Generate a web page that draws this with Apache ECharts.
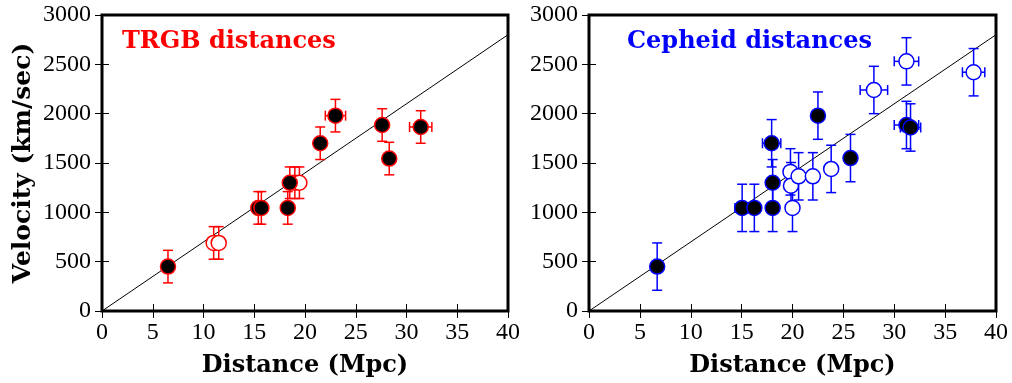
<!DOCTYPE html>
<html>
<head>
<meta charset="utf-8">
<script src="https://cdn.jsdelivr.net/npm/echarts@6/dist/echarts.min.js"></script>
<style>
  html, body { margin: 0; padding: 0; background: #fff; }
  #chart { width: 1012px; height: 383px; }
</style>
</head>
<body>
<div id="chart"></div>
<script>
// Hubble diagram: velocity vs distance for two distance indicators.
// Each row: [distance (Mpc), velocity (km/s), distance error, velocity error]
const trgbFilled = [
  [6.5, 450, 0, 165],
  [15.4, 1045, 0, 165],
  [15.7, 1045, 0, 165],
  [18.3, 1045, 0, 165],
  [18.5, 1300, 0, 160],
  [21.5, 1700, 0, 165],
  [23.0, 1980, 1.0, 165],
  [27.6, 1885, 0, 165],
  [28.3, 1545, 0, 165],
  [31.4, 1865, 1.1, 165]
];
const trgbOpen = [
  [11.0, 690, 0, 165],
  [11.5, 690, 0, 165],
  [19.0, 1300, 0, 160],
  [19.45, 1300, 0, 160]
];
const cepheidFilled = [
  [6.7, 450, 0, 240],
  [15.05, 1045, 0.7, 240],
  [16.25, 1045, 0, 240],
  [18.05, 1045, 0.5, 240],
  [18.05, 1300, 0, 235],
  [17.95, 1700, 0.9, 240],
  [22.5, 1980, 0, 240],
  [25.7, 1550, 0, 240],
  [31.2, 1885, 1.2, 240],
  [31.6, 1860, 1.0, 240]
];
const cepheidOpen = [
  [19.8, 1410, 0, 235],
  [19.85, 1270, 0, 235],
  [20.6, 1365, 0, 240],
  [22.0, 1365, 0, 240],
  [20.0, 1045, 0, 240],
  [23.8, 1440, 0, 240],
  [28.0, 2240, 1.35, 240],
  [31.2, 2530, 1.2, 240],
  [37.8, 2420, 1.1, 240]
];
// Reference Hubble law, H0 = 70 km/s/Mpc, between its end points.
const hubbleLine = [[0, 0], [40, 2800]];

const xTicks = [0, 5, 10, 15, 20, 25, 30, 35, 40];
const yTicks = [0, 500, 1000, 1500, 2000, 2500, 3000];
const panelTitles = ['TRGB distances', 'Cepheid distances'];
const panelColors = ['#ff0000', '#0000ff'];
const xName = 'Distance (Mpc)';
const yName = 'Velocity (km/sec)';

const RED = panelColors[0], BLUE = panelColors[1];
const tickFont = { fontFamily: 'Liberation Serif', fontSize: 24, color: '#000' };
const boldFont = { fontFamily: 'DejaVu Serif', fontWeight: 'bold', fontSize: 24, color: '#000' };
const plain = v => String(v);

const grids = [
  { left: 102, top: 15, width: 406, height: 298 },
  { left: 589, top: 15, width: 407, height: 298 }
];

function xAxisFor(gi, pos) {
  const main = pos === 'bottom';
  return {
    gridIndex: gi, type: 'value', position: pos,
    min: xTicks[0], max: xTicks[xTicks.length - 1], interval: xTicks[1] - xTicks[0],
    axisLine: { show: false },
    axisTick: { show: true, inside: true, length: 7, lineStyle: { color: '#000', width: 1 } },
    axisLabel: main ? Object.assign({ show: true, margin: 10, formatter: plain }, tickFont) : { show: false },
    splitLine: { show: false },
    name: main ? xName : '',
    nameLocation: 'middle', nameGap: 43,
    nameTextStyle: boldFont
  };
}
function yAxisFor(gi, pos) {
  const main = pos === 'left';
  return {
    gridIndex: gi, type: 'value', position: pos,
    min: yTicks[0], max: yTicks[yTicks.length - 1], interval: yTicks[1] - yTicks[0],
    axisLine: { show: false },
    axisTick: { show: true, inside: true, length: 7, lineStyle: { color: '#000', width: 1 } },
    axisLabel: main ? Object.assign({ show: true, margin: 11, formatter: plain }, tickFont) : { show: false },
    splitLine: { show: false },
    name: (main && gi === 0) ? yName : '',
    nameLocation: 'middle', nameGap: 66, nameRotate: 90,
    nameTextStyle: Object.assign({}, boldFont, { fontSize: 25 })
  };
}

// Error bars with end caps; horizontal bars only where a distance error exists.
function errorBars(color) {
  return function (params, api) {
    const x = api.value(0), y = api.value(1), xe = api.value(2), ye = api.value(3);
    const top = api.coord([x, y + ye]);
    const bot = api.coord([x, y - ye]);
    const cap = 5;
    const style = { stroke: color, lineWidth: 1.5, fill: null };
    const kids = [
      { type: 'line', shape: { x1: top[0], y1: top[1], x2: bot[0], y2: bot[1] }, style },
      { type: 'line', shape: { x1: top[0] - cap, y1: top[1], x2: top[0] + cap, y2: top[1] }, style },
      { type: 'line', shape: { x1: bot[0] - cap, y1: bot[1], x2: bot[0] + cap, y2: bot[1] }, style }
    ];
    if (xe > 0) {
      const l = api.coord([x - xe, y]);
      const r = api.coord([x + xe, y]);
      kids.push(
        { type: 'line', shape: { x1: l[0], y1: l[1], x2: r[0], y2: r[1] }, style },
        { type: 'line', shape: { x1: l[0], y1: l[1] - cap, x2: l[0], y2: l[1] + cap }, style },
        { type: 'line', shape: { x1: r[0], y1: r[1] - cap, x2: r[0], y2: r[1] + cap }, style }
      );
    }
    return { type: 'group', children: kids };
  };
}

function panelSeries(gi, filled, open, color) {
  const axes = { xAxisIndex: gi * 2, yAxisIndex: gi * 2 };
  return [
    Object.assign({
      type: 'line', data: hubbleLine, symbol: 'none', silent: true,
      lineStyle: { color: '#000', width: 1 }, z: 1
    }, axes),
    Object.assign({
      type: 'custom', renderItem: errorBars(color), data: open.concat(filled),
      encode: { x: 0, y: 1 }, z: 2, silent: true
    }, axes),
    Object.assign({
      type: 'scatter', data: open, symbol: 'circle', symbolSize: 15,
      itemStyle: { color: '#fff', borderColor: color, borderWidth: 1.5, opacity: 1 }, z: 3
    }, axes),
    Object.assign({
      type: 'scatter', data: filled, symbol: 'circle', symbolSize: 15,
      itemStyle: { color: '#000', borderColor: color, borderWidth: 1.5, opacity: 1 }, z: 4
    }, axes)
  ];
}

const chart = echarts.init(document.getElementById('chart'), null, { renderer: 'canvas' });
chart.setOption({
  animation: false,
  backgroundColor: '#fff',
  title: [
    { text: panelTitles[0], left: 117, top: 25,
      textStyle: { fontFamily: 'DejaVu Serif', fontWeight: 'bold', fontSize: 24, color: RED } },
    { text: panelTitles[1], left: 622, top: 25,
      textStyle: { fontFamily: 'DejaVu Serif', fontWeight: 'bold', fontSize: 24, color: BLUE } }
  ],
  grid: grids.map(g => Object.assign({ show: true, borderColor: '#000', borderWidth: 3, backgroundColor: 'transparent' }, g)),
  xAxis: [xAxisFor(0, 'bottom'), xAxisFor(0, 'top'), xAxisFor(1, 'bottom'), xAxisFor(1, 'top')],
  yAxis: [yAxisFor(0, 'left'), yAxisFor(0, 'right'), yAxisFor(1, 'left'), yAxisFor(1, 'right')],
  series: [].concat(
    panelSeries(0, trgbFilled, trgbOpen, RED),
    panelSeries(1, cepheidFilled, cepheidOpen, BLUE)
  )
});
</script>
</body>
</html>
